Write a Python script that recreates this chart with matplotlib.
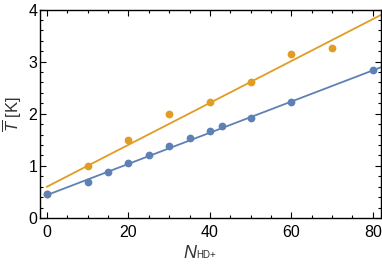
import numpy as np
import matplotlib
matplotlib.use("Agg")
import matplotlib.pyplot as plt
from matplotlib.ticker import MultipleLocator

plt.rcParams["font.family"] = "Liberation Sans"
plt.rcParams["mathtext.fontset"] = "custom"
plt.rcParams["mathtext.it"] = "Liberation Sans:italic"
plt.rcParams["mathtext.rm"] = "Liberation Sans"

# measured points
n_blue = [0, 10, 15, 20, 25, 30, 35, 40, 43, 50, 60, 80]
t_blue = [0.46, 0.69, 0.88, 1.05, 1.21, 1.38, 1.53, 1.67, 1.77, 1.91, 2.23, 2.83]
n_orange = [0, 10, 20, 30, 40, 50, 60, 70]
t_orange = [0.47, 0.99, 1.50, 1.99, 2.23, 2.60, 3.15, 3.27]

# fit lines (intercept, slope)
fit_blue = (0.44, 0.0299)
fit_orange = (0.60, 0.0402)

BLUE = "#5E81B5"
ORANGE = "#E19C24"
W, H = 382, 267

fig = plt.figure(figsize=(W / 100, H / 100), dpi=100)
ax = fig.add_axes([40 / W, (H - 218) / H, 341 / W, 208.5 / H])

xs = np.array([0, 85])
ax.plot(xs, fit_orange[0] + fit_orange[1] * xs, color=ORANGE, lw=1.3)
ax.plot(xs, fit_blue[0] + fit_blue[1] * xs, color=BLUE, lw=1.3)
ax.plot(n_orange, t_orange, "o", color=ORANGE, ms=5.6, mec="none")
ax.plot(n_blue, t_blue, "o", color=BLUE, ms=5.6, mec="none")

ax.set_xlim(-1.7, 82)
ax.set_ylim(0, 4)
ax.xaxis.set_major_locator(MultipleLocator(20))
ax.xaxis.set_minor_locator(MultipleLocator(5))
ax.yaxis.set_major_locator(MultipleLocator(1))
ax.yaxis.set_minor_locator(MultipleLocator(0.2))
ax.tick_params(which="both", direction="in", top=True, right=True,
               labelsize=11.5, width=0.8)
ax.tick_params(axis="x", pad=5)
ax.tick_params(axis="y", pad=2)
ax.tick_params(which="major", length=4)
ax.tick_params(which="minor", length=2.5)
for s in ax.spines.values():
    s.set_linewidth(1.0)

# x label: big italic N with a small upright subscript
fig.text(183 / W, (H - 258) / H, "N", fontsize=13, style="italic",
         color="#333333", va="baseline", ha="left")
fig.text(196 / W, (H - 258) / H, "HD+", fontsize=7, color="#333333",
         va="baseline", ha="left")
ax.set_ylabel(r"$\overline{T}$ [K]", fontsize=12, labelpad=3, color="#333333")

fig.savefig("out.png", dpi=100)
